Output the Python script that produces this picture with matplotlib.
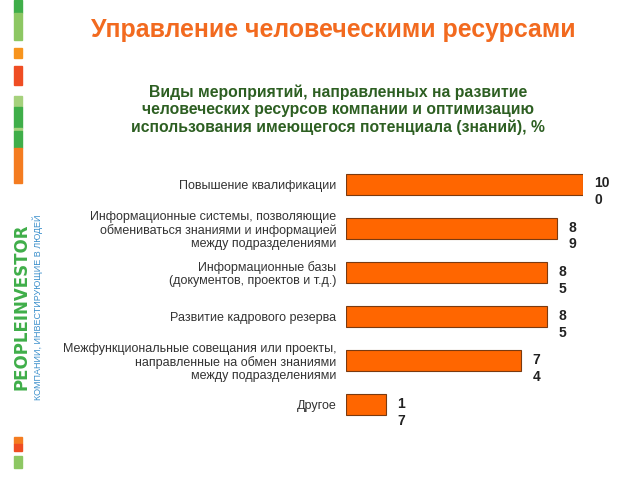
import matplotlib.pyplot as plt
from matplotlib.patches import Rectangle

plt.rcParams['font.family'] = ['Liberation Sans', 'DejaVu Sans']

categories = [
    "Повышение квалификации",
    "Информационные системы, позволяющие\nобмениваться знаниями и информацией\nмежду подразделениями",
    "Информационные базы\n(документов, проектов и т.д.)",
    "Развитие кадрового резерва",
    "Межфункциональные совещания или проекты,\nнаправленные на обмен знаниями\nмежду подразделениями",
    "Другое",
]
values = [100, 89, 85, 85, 74, 17]
value_labels = ["10\n0", "8\n9", "8\n5", "8\n5", "7\n4", "1\n7"]

title = "Управление человеческими ресурсами"
subtitle = ("Виды мероприятий, направленных на развитие\n"
            "человеческих ресурсов компании и оптимизацию\n"
            "использования имеющегося потенциала (знаний), %")

W, H = 640, 480
fig = plt.figure(figsize=(6.4, 4.8), dpi=100)

def px(x, y, w, h):
    # pixel box (from top-left) -> figure fraction
    return [x / W, 1 - (y + h) / H, w / W, h / H]

# decorative logo strip on the left
strip = [
    (0, 13, "#3fae49"), (13, 40, "#8dc763"),
    (48, 58, "#f7941d"), (66, 85, "#ef4d23"),
    (96, 107, "#a5d17c"), (107, 128, "#3fae49"), (128, 131, "#a5d17c"),
    (131, 148, "#3fae49"), (148, 183, "#f47c20"),
    (437, 444, "#f47c20"), (444, 451, "#ef4d23"), (456, 468, "#8dc763"),
]
for y0, y1, c in strip:
    fig.patches.append(Rectangle((14 / W, 1 - y1 / H), 8 / W, (y1 - y0) / H,
                                 transform=fig.transFigure, color=c, zorder=0))

fig.text(21.5 / W, 1 - 307 / H, "PEOPLEINVESTOR", rotation=90, ha="center", va="center",
         color="#3fae49", fontsize=12, fontweight="bold", family="DejaVu Sans")
fig.text(37.5 / W, 1 - 307 / H, "КОМПАНИИ, ИНВЕСТИРУЮЩИЕ В ЛЮДЕЙ", rotation=90,
         ha="center", va="center", color="#3b8fcb", fontsize=6.5)

fig.text(333 / W, 1 - 30 / H, title, ha="center", va="center",
         color="#f26a1f", fontsize=17.9, fontweight="bold")
fig.text(338 / W, 1 - 110 / H, subtitle, ha="center", va="center",
         color="#2d5f22", fontsize=11.3, fontweight="bold", linespacing=1.2)

ax = fig.add_axes(px(346, 162, 237, 265))
ypos = list(range(len(values)))
ax.barh(ypos, values, height=0.475, color="#ff6600", edgecolor="#7a3a10", linewidth=0.8)
ax.set_xlim(0, 100)
ax.set_ylim(len(values) - 0.5, -0.5)
ax.set_yticks(ypos)
ax.set_yticklabels(categories, fontsize=9, color="#333333", linespacing=1.12)
ax.tick_params(axis="y", length=0, pad=7)
ax.set_xticks([])
for s in ax.spines.values():
    s.set_visible(False)

for i, (v, lab) in enumerate(zip(values, value_labels)):
    ax.annotate(lab, (v, i), xytext=(8, 5.5), textcoords="offset points",
                ha="left", va="top", fontsize=10, fontweight="bold",
                color="#222222", linespacing=1.25, annotation_clip=False)

fig.savefig("out.png", dpi=100)
